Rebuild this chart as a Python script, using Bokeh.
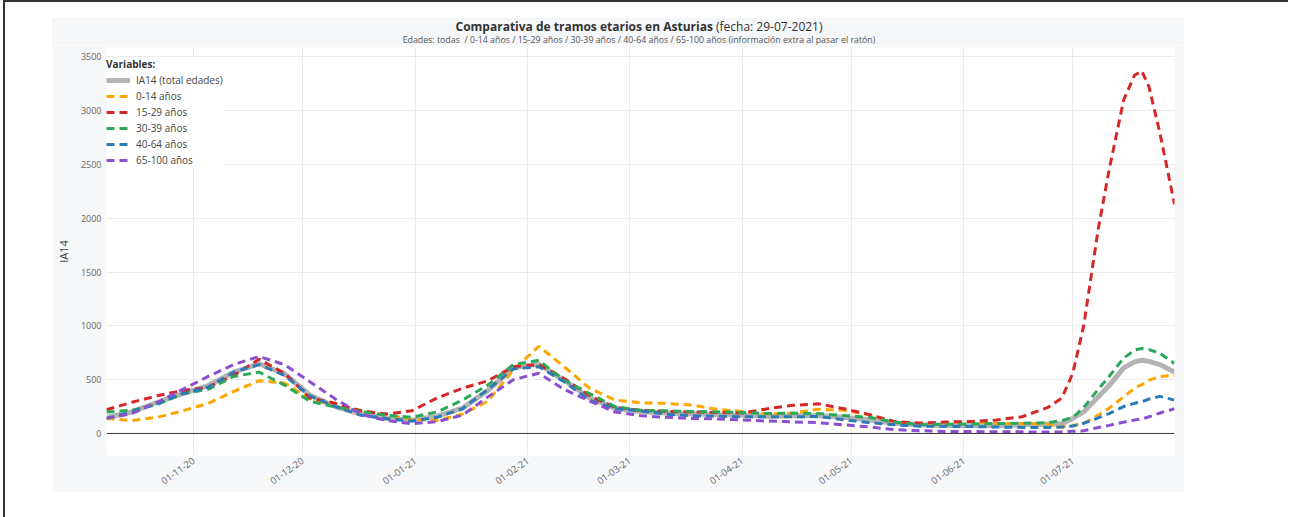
import pandas as pd
from bokeh.plotting import figure
from bokeh.models import (Range1d, FixedTicker, DatetimeTickFormatter, Span,
                          Legend, LegendItem, Spacer, Div)
from bokeh.layouts import row, column
from bokeh.embed import file_html
from bokeh.resources import INLINE

# ---------------- data ----------------
dates = ["2020-10-08", "2020-10-15", "2020-10-22", "2020-10-29", "2020-11-05", "2020-11-12",
         "2020-11-19", "2020-11-26", "2020-12-03", "2020-12-10", "2020-12-17", "2020-12-24",
         "2020-12-31", "2021-01-07", "2021-01-14", "2021-01-21", "2021-01-28", "2021-02-04",
         "2021-02-11", "2021-02-18", "2021-02-25", "2021-03-04", "2021-03-11", "2021-03-18",
         "2021-03-25", "2021-04-01", "2021-04-08", "2021-04-15", "2021-04-22", "2021-04-29",
         "2021-05-06", "2021-05-13", "2021-05-20", "2021-05-27", "2021-06-03", "2021-06-10",
         "2021-06-17", "2021-06-24", "2021-06-28", "2021-07-01", "2021-07-04", "2021-07-08",
         "2021-07-11", "2021-07-15", "2021-07-18", "2021-07-20", "2021-07-22", "2021-07-25",
         "2021-07-29"]

total = [148, 200, 290, 370, 445, 570, 648, 555, 355, 250, 180, 140, 123, 160, 235, 400, 610,
         645, 494, 330, 235, 205, 190, 180, 175, 170, 160, 165, 165, 150, 125, 95, 80, 75, 75,
         75, 80, 85, 90, 140, 200, 340, 445, 610, 665, 680, 670, 640, 570]
a0_14 = [140, 120, 150, 210, 280, 390, 490, 470, 320, 250, 215, 175, 130, 120, 180, 300, 590,
         810, 620, 420, 310, 285, 280, 265, 225, 205, 180, 190, 225, 215, 175, 105, 88, 100, 110,
         93, 93, 85, 60, 75, 95, 170, 235, 340, 420, 455, 495, 530, 540]
a15_29 = [220, 290, 350, 400, 430, 540, 690, 560, 330, 280, 210, 180, 210, 330, 420, 490, 620,
          640, 510, 350, 240, 215, 205, 200, 195, 190, 230, 262, 275, 230, 175, 110, 98, 106, 112,
          125, 155, 240, 330, 560, 1000, 1900, 2450, 3100, 3330, 3370, 3220, 2790, 2130]
a30_39 = [200, 215, 270, 370, 410, 530, 570, 450, 300, 245, 205, 170, 150, 200, 310, 450, 640,
          680, 494, 370, 250, 215, 210, 205, 200, 195, 185, 188, 185, 166, 150, 105, 82, 85, 88,
          92, 95, 100, 120, 150, 240, 410, 530, 700, 775, 790, 780, 745, 650]
a40_64 = [140, 200, 280, 370, 430, 570, 640, 540, 350, 250, 170, 140, 115, 150, 230, 410, 600,
          620, 480, 310, 230, 210, 180, 165, 160, 155, 155, 155, 158, 128, 100, 80, 68, 68, 64,
          60, 56, 56, 60, 70, 95, 145, 185, 250, 280, 295, 320, 345, 310]
a65_100 = [140, 185, 290, 410, 530, 640, 715, 640, 480, 320, 180, 120, 90, 110, 170, 340, 500,
           560, 410, 300, 200, 165, 150, 140, 135, 125, 115, 108, 100, 80, 60, 35, 25, 19, 18,
           16, 15, 13, 15, 20, 25, 55, 75, 105, 125, 135, 155, 190, 230]

series_names = ["IA14 (total edades)", "0-14 años", "15-29 años", "30-39 años", "40-64 años",
                "65-100 años"]
x_tick_dates = ["2020-11-01", "2020-12-01", "2021-01-01", "2021-02-01", "2021-03-01",
                "2021-04-01", "2021-05-01", "2021-06-01", "2021-07-01"]
y_ticks = [0, 500, 1000, 1500, 2000, 2500, 3000, 3500]

title_bold = "Comparativa de tramos etarios en Asturias"
title_rest = " (fecha: 29-07-2021)"
subtitle = ("Edades: todas&nbsp; / 0-14 años / 15-29 años / 30-39 años / 40-64 años / "
            "65-100 años (información extra al pasar el ratón)")

FONT = "Open Sans"
BG = "#f6f7f9"

# ---------------- title block ----------------
title_html = (
    f'<div style="width:1132px;text-align:center;font-family:\'{FONT}\';color:#333333;'
    f'padding-left:42px;box-sizing:border-box;">'
    f'<div style="height:2px"></div>'
    f'<div style="line-height:13px;height:13px;font-size:12px;white-space:nowrap;">'
    f'<span style="font-weight:bold">{title_bold}</span>{title_rest}</div>'
    f'<div style="margin-top:3px;line-height:9px;height:9px;font-size:8.8px;color:#555555;'
    f'white-space:nowrap;">{subtitle}</div>'
    f'</div>'
)
title_div = Div(text=title_html, width=1132, height=27,
                styles={"background-color": BG, "margin": "0", "padding": "0"})

# ---------------- figure ----------------
x = pd.to_datetime(dates)

p = figure(width=1132, height=447, x_axis_type="datetime", output_backend="svg",
           toolbar_location=None,
           x_range=Range1d(pd.Timestamp("2020-10-08"), pd.Timestamp("2021-07-29")),
           y_range=Range1d(-205, 3588),
           min_border_left=49, min_border_right=10, min_border_top=2, min_border_bottom=37)
p.border_fill_color = BG
p.background_fill_color = "white"
p.outline_line_color = None

grid_col = "#ebebeb"
p.xgrid.grid_line_color = grid_col
p.ygrid.grid_line_color = grid_col

p.xaxis.ticker = FixedTicker(ticks=[pd.Timestamp(d).timestamp() * 1000 for d in x_tick_dates])
fmt = "%d-%m-%y"
p.xaxis.formatter = DatetimeTickFormatter(days=fmt, months=fmt, years=fmt, hours=fmt,
                                          minutes=fmt, seconds=fmt, milliseconds=fmt,
                                          microseconds=fmt, minsec=fmt, hourmin=fmt)
p.xaxis.major_label_orientation = 0.62
p.yaxis.ticker = FixedTicker(ticks=y_ticks)
for ax in (p.xaxis[0], p.yaxis[0]):
    ax.axis_line_color = None
    ax.major_tick_line_color = None
    ax.minor_tick_line_color = None
    ax.major_tick_out = 0
    ax.major_tick_in = 0
    ax.minor_tick_out = 0
    ax.minor_tick_in = 0
    ax.major_label_text_font = FONT
    ax.major_label_text_color = "#666666"
    ax.major_label_text_font_size = "9px"
p.xaxis.major_label_text_font_size = "9.5px"
p.xaxis.major_label_standoff = 4
p.yaxis.major_label_standoff = 5
p.yaxis.axis_label = "IA14"
p.yaxis.axis_label_text_font = FONT
p.yaxis.axis_label_text_font_style = "normal"
p.yaxis.axis_label_text_font_size = "11px"
p.yaxis.axis_label_text_color = "#444444"
p.yaxis.axis_label_standoff = 7

p.add_layout(Span(location=0, dimension="width", line_color="#333333", line_width=1))

colors = ["#b3b3b3", "#ffa500", "#d62728", "#2ca85a", "#2c7bb6", "#8b4fd0"]
values = [total, a0_14, a15_29, a30_39, a40_64, a65_100]
renderers = []
for i, (vals, col) in enumerate(zip(values, colors)):
    if i == 0:
        r = p.line(x, vals, line_color=col, line_width=5, line_join="round")
    else:
        r = p.line(x, vals, line_color=col, line_width=3, line_dash="8 5")
    renderers.append(r)

legend = Legend(items=[LegendItem(label=n, renderers=[r]) for n, r in zip(series_names, renderers)],
                location=(0, 288), title="Variables:")
legend.title_text_font = FONT
legend.title_text_font_style = "bold"
legend.title_text_font_size = "10px"
legend.title_text_color = "#333333"
legend.title_standoff = 2
legend.label_text_font = FONT
legend.label_text_font_size = "10px"
legend.label_text_color = "#444444"
legend.label_height = 14
legend.glyph_height = 14
legend.glyph_width = 24
legend.label_standoff = 6
legend.spacing = 2
legend.padding = 4
legend.margin = 0
legend.border_line_color = None
legend.background_fill_color = "white"
legend.background_fill_alpha = 1.0
p.add_layout(legend)

layout = row(Spacer(width=47),
             column(Spacer(height=16), title_div, p, Spacer(height=40)),
             Spacer(width=104),
             styles={"border-left": "2px solid #333333", "border-top": "2px solid #333333",
                     "margin-left": "3px"})
open("out.html", "w").write(file_html(layout, INLINE))
